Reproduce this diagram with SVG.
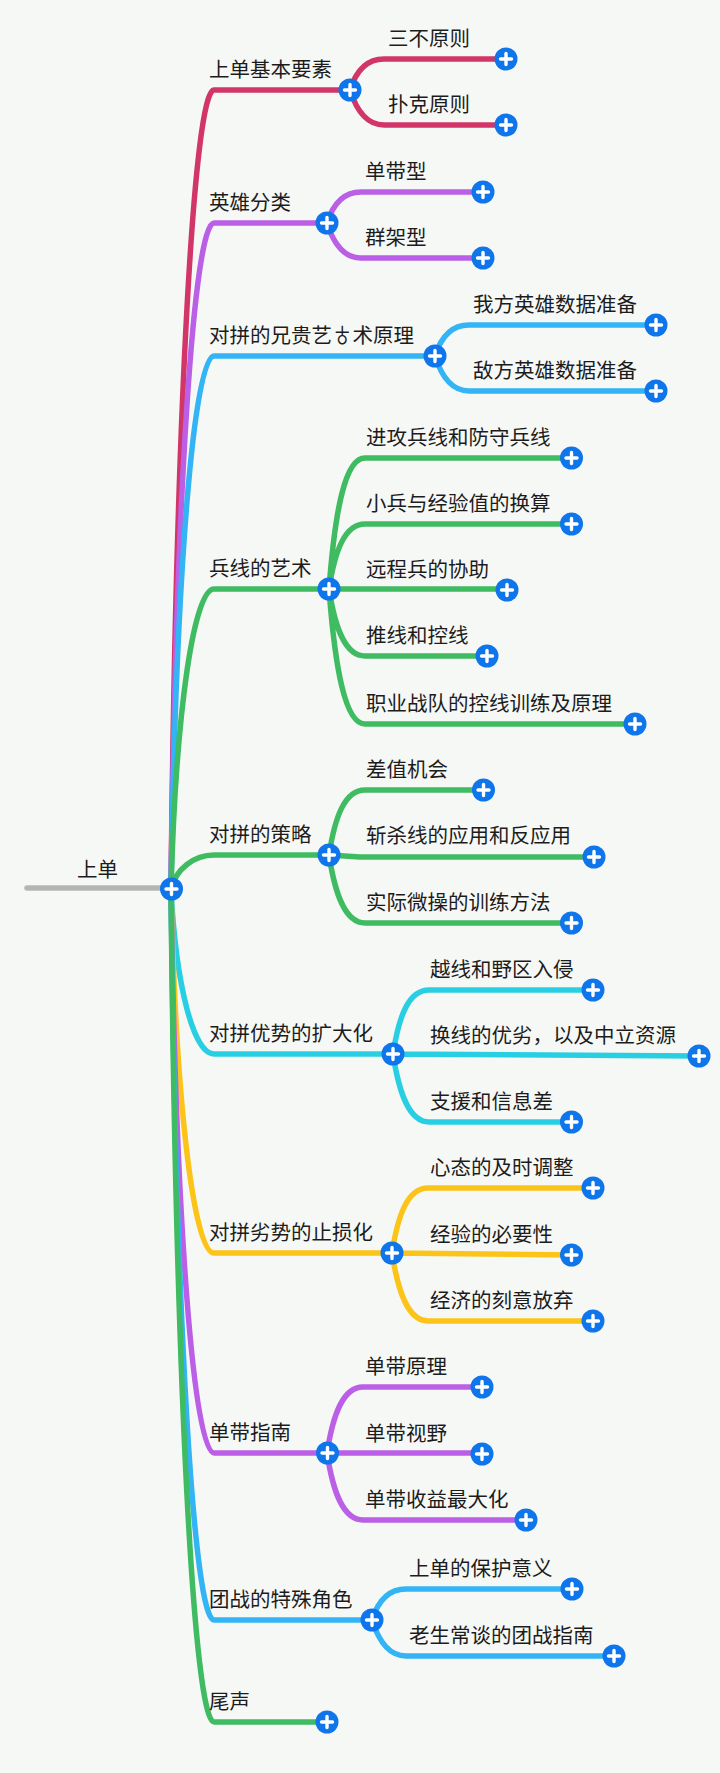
<svg xmlns="http://www.w3.org/2000/svg" width="720" height="1773" viewBox="0 0 720 1773">
<style>
text{font-family:"Noto Sans CJK SC","Noto Sans",sans-serif;font-size:20.5px;fill:#1c1c1c}
.c{fill:none;stroke-width:5.5;stroke-linecap:round;stroke-linejoin:round}
.red{stroke:#d23669}.pur{stroke:#bb5fe6}.blu{stroke:#32b4f5}.grn{stroke:#3fbb62}.cya{stroke:#28cfe3}.yel{stroke:#fcc419}.gry{stroke:#b5b5b5}
</style>
<defs>
<g id="p"><circle r="11.5" fill="#0f75ea"/><path d="M-5.5 0H5.5M0-5.5V5.5" stroke="#fff" stroke-width="3.4" stroke-linecap="round"/></g>
</defs>
<rect width="720" height="1773" fill="#f6f8f6"/>
<g id="connectors">
<path class="c gry" d="M27 888H165"/>
<path class="c red" d="M171 889C176 410 194 90 214 90H350M350 90C356 71 366 59 384 59H506M350 90C356 109 366 125 384 125H506"/>
<path class="c pur" d="M171 889C176 490 194 223 214 223H327M327 223C333 204 343 192 361 192H483M327 223C333 242 343 258 361 258H483"/>
<path class="c blu" d="M171 889C176 570 194 356 214 356H435M435 356C441 337 451 325 469 325H656M435 356C441 375 451 391 469 391H656"/>
<path class="c grn" d="M171 889C176 709 194 589 214 589H329M329 589C335 510 345 458 365 458H571M329 589C335 550 345 524 365 524H571M329 589H507M329 589C335 628 345 656 365 656H487M329 589C335 668 345 724 365 724H635"/>
<path class="c cya" d="M171 889C176 988 194 1054 214 1054H393M393 1054C399 1015 409 990 429 990H593M393 1054L700 1056M393 1054C399 1093 409 1122 429 1122H571"/>
<path class="c yel" d="M171 889C176 1106 194 1253 214 1253H392M392 1253C398 1214 408 1188 428 1188H593M392 1253L572 1255M392 1253C398 1292 408 1321 428 1321H593"/>
<path class="c pur" d="M171 889C176 1228 194 1453 214 1453H327M327 1453C333 1414 343 1387 363 1387H482M327 1453H482M327 1453C333 1492 343 1520 363 1520H526"/>
<path class="c blu" d="M171 889C176 1328 194 1620 214 1620H372M372 1620C378 1601 388 1589 406 1589H572M372 1620C378 1639 388 1656 406 1656H614"/>
<path class="c grn" d="M171 889C176 1389 194 1722 214 1722H327"/>
<path class="c grn" d="M329 855C335 816 345 790 365 790H483M329 855L360 857H594M329 855C335 894 345 923 365 923H571M171 889C176 869 194 855 214 855H329"/>
</g>
<g id="root"><text x="77" y="877">上单</text><use href="#p" x="171.5" y="889"/></g>
<g id="n1"><text x="209" y="77">上单基本要素</text><use href="#p" x="350" y="90"/></g>
<g id="n1a"><text x="388" y="46">三不原则</text><use href="#p" x="506" y="59"/></g>
<g id="n1b"><text x="388" y="112">扑克原则</text><use href="#p" x="506" y="125"/></g>
<g id="n2"><text x="209" y="210">英雄分类</text><use href="#p" x="327" y="223"/></g>
<g id="n2a"><text x="365" y="179">单带型</text><use href="#p" x="483" y="192"/></g>
<g id="n2b"><text x="365" y="245">群架型</text><use href="#p" x="483" y="258"/></g>
<g id="n3"><text x="209" y="343">对拼的兄贵艺♁术原理</text><use href="#p" x="435" y="356"/></g>
<g id="n3a"><text x="473" y="312">我方英雄数据准备</text><use href="#p" x="656" y="325"/></g>
<g id="n3b"><text x="473" y="378">敌方英雄数据准备</text><use href="#p" x="656" y="391"/></g>
<g id="n4"><text x="209" y="576">兵线的艺术</text><use href="#p" x="329" y="589"/></g>
<g id="n4a"><text x="366" y="445">进攻兵线和防守兵线</text><use href="#p" x="571.5" y="458"/></g>
<g id="n4b"><text x="366" y="511">小兵与经验值的换算</text><use href="#p" x="571.5" y="524"/></g>
<g id="n4c"><text x="366" y="577">远程兵的协助</text><use href="#p" x="507" y="590"/></g>
<g id="n4d"><text x="366" y="643">推线和控线</text><use href="#p" x="487" y="656"/></g>
<g id="n4e"><text x="366" y="711">职业战队的控线训练及原理</text><use href="#p" x="635" y="724"/></g>
<g id="n5"><text x="209" y="842">对拼的策略</text><use href="#p" x="329" y="855"/></g>
<g id="n5a"><text x="366" y="777">差值机会</text><use href="#p" x="483.5" y="790"/></g>
<g id="n5b"><text x="366" y="843">斩杀线的应用和反应用</text><use href="#p" x="594" y="857"/></g>
<g id="n5c"><text x="366" y="910">实际微操的训练方法</text><use href="#p" x="571.5" y="923"/></g>
<g id="n6"><text x="209" y="1041">对拼优势的扩大化</text><use href="#p" x="393" y="1054"/></g>
<g id="n6a"><text x="430" y="977">越线和野区入侵</text><use href="#p" x="593" y="990"/></g>
<g id="n6b"><text x="430" y="1043">换线的优劣，以及中立资源</text><use href="#p" x="699" y="1056"/></g>
<g id="n6c"><text x="430" y="1109">支援和信息差</text><use href="#p" x="571.5" y="1122"/></g>
<g id="n7"><text x="209" y="1240">对拼劣势的止损化</text><use href="#p" x="392" y="1253"/></g>
<g id="n7a"><text x="430" y="1175">心态的及时调整</text><use href="#p" x="593" y="1188"/></g>
<g id="n7b"><text x="430" y="1242">经验的必要性</text><use href="#p" x="571.5" y="1255"/></g>
<g id="n7c"><text x="430" y="1308">经济的刻意放弃</text><use href="#p" x="593" y="1321"/></g>
<g id="n8"><text x="209" y="1440">单带指南</text><use href="#p" x="327.5" y="1453"/></g>
<g id="n8a"><text x="365" y="1374">单带原理</text><use href="#p" x="482" y="1387"/></g>
<g id="n8b"><text x="365" y="1441">单带视野</text><use href="#p" x="482" y="1454"/></g>
<g id="n8c"><text x="365" y="1507">单带收益最大化</text><use href="#p" x="526" y="1520"/></g>
<g id="n9"><text x="209" y="1607">团战的特殊角色</text><use href="#p" x="372" y="1620"/></g>
<g id="n9a"><text x="409" y="1576">上单的保护意义</text><use href="#p" x="572" y="1589"/></g>
<g id="n9b"><text x="409" y="1643">老生常谈的团战指南</text><use href="#p" x="614" y="1656"/></g>
<g id="n10"><text x="209" y="1709">尾声</text><use href="#p" x="327" y="1722"/></g>
</svg>
